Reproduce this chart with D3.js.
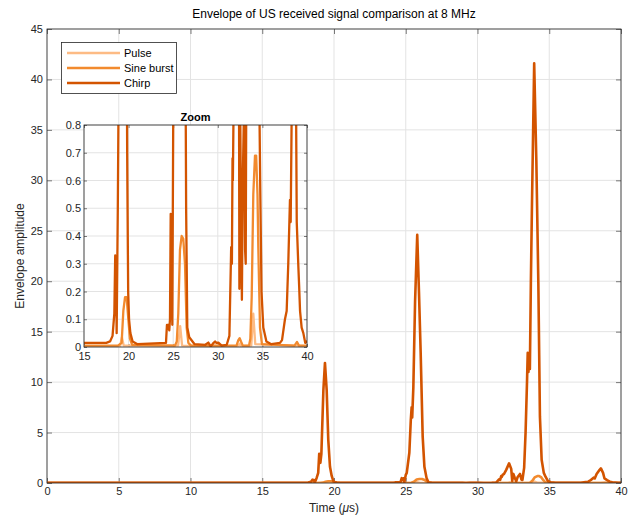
<!DOCTYPE html>
<html>
<head>
<meta charset="utf-8">
<script src="https://cdn.jsdelivr.net/npm/d3@7"></script>
<style>
  body { margin: 0; background: #fff; }
  svg { font-family: "Liberation Sans", Arial, sans-serif; }
</style>
</head>
<body>
<div id="canvas"></div>
<script>
// series data: time (us) and envelope amplitude
var pulseT = [0, 19.05, 19.25, 19.45, 25.55, 25.78, 26.0, 32.3, 32.45, 32.6, 33.75, 33.98, 34.2, 40];
var pulseV = [0.003, 0.003, 0.035, 0.005, 0.005, 0.075, 0.005, 0.003, 0.012, 0.003, 0.005, 0.12, 0.01, 0.003];

var sineT = [0, 18.8, 19.22, 19.41, 19.6, 19.78, 19.97, 20.15, 20.4, 25.2, 25.4, 25.57, 25.76, 25.95, 26.13, 26.32, 26.51, 26.7, 27,
  32.1, 32.3, 32.45, 32.6, 32.8, 33.5, 33.65, 33.8, 33.98, 34.17, 34.3, 34.45, 34.54, 34.73, 34.95, 38.6, 38.88, 39.1, 40];
var sineV = [0.005, 0.005, 0.015, 0.13, 0.18, 0.18, 0.1, 0.03, 0.008, 0.005, 0.02, 0.12, 0.35, 0.4, 0.39, 0.3, 0.07, 0.015, 0.005,
  0.005, 0.025, 0.032, 0.02, 0.005, 0.005, 0.03, 0.18, 0.55, 0.69, 0.69, 0.55, 0.36, 0.07, 0.01, 0.005, 0.018, 0.005, 0.005];

var chirpT = [0, 5, 10, 15, 17.5, 17.92, 18.2, 18.4, 18.5, 18.6, 18.66, 18.79, 18.9, 18.97, 19.05, 19.12, 19.26, 19.37, 19.49,
  19.6, 19.72, 19.84, 19.95, 20.05, 20.2, 20.45, 21, 24.19, 24.3, 24.45, 24.56, 24.64, 24.72, 24.78, 24.83, 24.9, 25.0,
  25.07, 25.25, 25.35, 25.41, 25.45, 25.53, 25.65, 25.8, 25.92, 26.04, 26.18, 26.3, 26.45, 26.58, 26.8, 27.4, 28.6, 28.94,
  29.2, 29.45, 29.69, 29.85, 30.06, 30.43, 31.0, 31.3, 31.5, 31.58, 31.65, 31.69, 31.75, 31.85, 32.0, 32.2, 32.35, 32.42,
  32.5, 32.6, 32.7, 32.8, 32.96, 33.06, 33.13, 33.25, 33.35, 33.45, 33.5, 33.55, 33.6, 33.65, 33.72, 33.8, 33.95, 34.1,
  34.24, 34.35, 34.47, 34.62, 34.75, 34.9, 35.1, 35.45, 36, 36.97, 37.2, 37.53, 37.72, 37.9, 38.09, 38.17, 38.3, 38.45,
  38.6, 38.75, 38.85, 39.03, 39.12, 39.22, 39.4, 39.59, 39.8, 39.96, 40];
var chirpV = [0.02, 0.02, 0.02, 0.015, 0.015, 0.02, 0.04, 0.12, 0.33, 0.3, 0.05, 0.5, 1.0, 2.9, 2.0, 2.9, 9.2, 11.9, 9.2,
  4.3, 1.6, 0.7, 0.2, 0.1, 0.05, 0.02, 0.01, 0.015, 0.08, 0.08, 0.06, 0.1, 0.48, 0.3, 0.47, 0.08, 0.8,
  1.0, 3, 6.2, 7.5, 6.5, 9.5, 18, 24.6, 19, 12.9, 4.6, 1.6, 0.5, 0.07, 0.035, 0.01, 0.008, 0.016,
  0.002, 0.012, 0.02, 0.015, 0.016, 0.005, 0.008, 0.04, 0.36, 0.3, 0.68, 0.6, 0.8, 0.9, 1.3, 1.95, 1.4, 0.21,
  0.9, 0.5, 0.17, 0.6, 0.9, 0.35, 0.3, 1.5, 5, 10, 12.9, 11, 12.7, 11.3, 20, 28, 41.6, 32,
  19.8, 6.6, 2.3, 1.0, 0.6, 0.2, 0.07, 0.02, 0.01, 0.015, 0.025, 0.1, 0.13, 0.3, 0.53, 0.45, 0.9, 1.2,
  1.45, 1.0, 0.45, 0.29, 0.22, 0.13, 0.07, 0.05, 0.015, 0.02, 0.015];

var seriesNames = ["Pulse", "Sine burst", "Chirp"];
var seriesColors = ["#fdbb84", "#f28a2e", "#d35400"];

var xTicks = [0, 5, 10, 15, 20, 25, 30, 35, 40];
var yTicks = [0, 5, 10, 15, 20, 25, 30, 35, 40, 45];
var zxTicks = [15, 20, 25, 30, 35, 40];
var zyTicks = [0, 0.1, 0.2, 0.3, 0.4, 0.5, 0.6, 0.7, 0.8];

var series = [
  {name: seriesNames[0], color: seriesColors[0], pts: pulseT.map((t, i) => [t, pulseV[i]])},
  {name: seriesNames[1], color: seriesColors[1], pts: sineT.map((t, i) => [t, sineV[i]])},
  {name: seriesNames[2], color: seriesColors[2], pts: chirpT.map((t, i) => [t, chirpV[i]])}
];

var W = 629, H = 519;
var axisCol = "#262626", gridCol = "#e3e3e3";

var svg = d3.select("#canvas").append("svg")
  .attr("width", W)
  .attr("height", H);

// draws one boxed axes with grid and inward ticks on all sides
function drawAxes(g, x, y, xt, yt, opts) {
  var x0 = x.range()[0], x1 = x.range()[1];
  var y0 = y.range()[0], y1 = y.range()[1];
  g.append("rect")
    .attr("x", x0).attr("y", y1)
    .attr("width", x1 - x0).attr("height", y0 - y1)
    .attr("fill", "#fff");

  g.append("g").selectAll("line").data(xt).enter().append("line")
    .attr("x1", d => x(d)).attr("x2", d => x(d))
    .attr("y1", y0).attr("y2", y1)
    .attr("stroke", gridCol).attr("stroke-width", 1);
  g.append("g").selectAll("line").data(yt).enter().append("line")
    .attr("x1", x0).attr("x2", x1)
    .attr("y1", d => y(d)).attr("y2", d => y(d))
    .attr("stroke", gridCol).attr("stroke-width", 1);

  var tl = opts.tick;
  g.append("g")
    .attr("transform", `translate(0,${y0})`)
    .call(d3.axisBottom(x).tickValues(xt).tickSizeInner(-tl).tickSizeOuter(0).tickPadding(opts.xpad))
    .call(s => s.select(".domain").remove());
  g.append("g")
    .attr("transform", `translate(0,${y1})`)
    .call(d3.axisTop(x).tickValues(xt).tickSizeInner(-tl).tickSizeOuter(0).tickFormat(""))
    .call(s => s.select(".domain").remove());
  g.append("g")
    .attr("transform", `translate(${x0},0)`)
    .call(d3.axisLeft(y).tickValues(yt).tickSizeInner(-tl).tickSizeOuter(0).tickPadding(opts.ypad).tickFormat(opts.yfmt))
    .call(s => s.select(".domain").remove());
  g.append("g")
    .attr("transform", `translate(${x1},0)`)
    .call(d3.axisRight(y).tickValues(yt).tickSizeInner(-tl).tickSizeOuter(0).tickFormat(""))
    .call(s => s.select(".domain").remove());

  g.selectAll(".tick line").attr("stroke", axisCol).attr("stroke-width", 0.6);
  g.selectAll(".tick text")
    .attr("fill", axisCol)
    .style("font-size", opts.font + "px")
    .style("font-family", "Liberation Sans, Arial, sans-serif");
}

function drawBox(g, x, y) {
  var x0 = x.range()[0], x1 = x.range()[1];
  var y0 = y.range()[0], y1 = y.range()[1];
  g.append("rect")
    .attr("x", x0).attr("y", y1)
    .attr("width", x1 - x0).attr("height", y0 - y1)
    .attr("fill", "none")
    .attr("stroke", axisCol).attr("stroke-width", 0.8);
}

// main axes
var x = d3.scaleLinear().domain([0, 40]).range([47, 621]);
var y = d3.scaleLinear().domain([0, 45]).range([483, 29]);

var main = svg.append("g");
drawAxes(main, x, y, xTicks, yTicks, {tick: 5, xpad: 4, ypad: 4, font: 11, yfmt: d3.format("d")});

main.append("clipPath").attr("id", "clipMain")
  .append("rect").attr("x", 47).attr("y", 29).attr("width", 574).attr("height", 454);

var line = d3.line().x(d => x(d[0])).y(d => y(d[1]));
main.append("g").attr("clip-path", "url(#clipMain)")
  .selectAll("path").data(series).enter().append("path")
  .attr("d", d => line(d.pts))
  .attr("fill", "none")
  .attr("stroke", d => d.color)
  .attr("stroke-width", 2.6)
  .attr("stroke-linejoin", "round");
drawBox(main, x, y);

svg.append("text")
  .attr("x", (47 + 621) / 2).attr("y", 18)
  .attr("text-anchor", "middle")
  .attr("fill", "#000")
  .style("font-size", "12px")
  .text("Envelope of US received signal comparison at 8 MHz");

var xl = svg.append("text")
  .attr("x", (47 + 621) / 2).attr("y", 512)
  .attr("text-anchor", "middle")
  .attr("fill", axisCol)
  .style("font-size", "12px");
xl.append("tspan").text("Time (");
xl.append("tspan").style("font-style", "italic").text("\u03bc");
xl.append("tspan").text("s)");

svg.append("text")
  .attr("transform", "translate(24," + ((29 + 483) / 2) + ") rotate(-90)")
  .attr("text-anchor", "middle")
  .attr("fill", axisCol)
  .style("font-size", "12px")
  .text("Envelope amplitude");

// legend
var leg = svg.append("g");
leg.append("rect")
  .attr("x", 61.5).attr("y", 42.5).attr("width", 115).attr("height", 51)
  .attr("fill", "#fff").attr("stroke", axisCol).attr("stroke-width", 0.8);
series.forEach(function (s, i) {
  var ly = 53 + i * 15;
  leg.append("line")
    .attr("x1", 67).attr("x2", 120).attr("y1", ly).attr("y2", ly)
    .attr("stroke", s.color).attr("stroke-width", 2.4);
  leg.append("text")
    .attr("x", 124).attr("y", ly + 4)
    .attr("fill", "#000")
    .style("font-size", "11px")
    .text(s.name);
});

// zoom inset
var zx = d3.scaleLinear().domain([15, 40]).range([84, 307]);
var zy = d3.scaleLinear().domain([0, 0.8]).range([347, 125]);
var inset = svg.append("g");
drawAxes(inset, zx, zy, zxTicks, zyTicks, {tick: 3, xpad: 5, ypad: 3, font: 11, yfmt: d3.format(".1~f")});

inset.append("clipPath").attr("id", "clipZoom")
  .append("rect").attr("x", 84).attr("y", 125).attr("width", 223).attr("height", 222);

var zline = d3.line().x(d => zx(d[0])).y(d => zy(d[1]));
inset.append("g").attr("clip-path", "url(#clipZoom)")
  .selectAll("path").data(series).enter().append("path")
  .attr("d", d => zline(d.pts))
  .attr("fill", "none")
  .attr("stroke", d => d.color)
  .attr("stroke-width", 2.3)
  .attr("stroke-linejoin", "round");
drawBox(inset, zx, zy);

inset.append("text")
  .attr("x", (84 + 307) / 2).attr("y", 121)
  .attr("text-anchor", "middle")
  .attr("fill", "#000")
  .style("font-size", "11px")
  .style("font-weight", "bold")
  .text("Zoom");
</script>
</body>
</html>
